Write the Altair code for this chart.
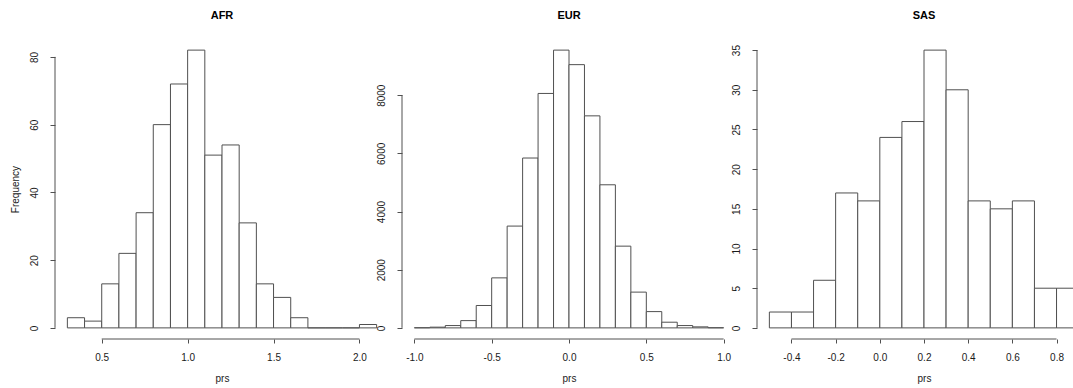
import altair as alt
import pandas as pd

# Histogram counts per population: first bin edge, bin width, counts per bin
afr_start, afr_step = 0.3, 0.1
afr_counts = [3, 2, 13, 22, 34, 60, 72, 82, 51, 54, 31, 13, 9, 3, 0, 0, 0, 1]
afr_xticks = [0.5, 1.0, 1.5, 2.0]
afr_yticks = [0, 20, 40, 60, 80]

eur_start, eur_step = -1.0, 0.1
eur_counts = [5, 25, 80, 250, 770, 1720, 3500, 5840, 8060, 9550,
              9050, 7290, 4920, 2810, 1230, 560, 195, 80, 35, 5]
eur_xticks = [-1.0, -0.5, 0.0, 0.5, 1.0]
eur_yticks = [0, 2000, 4000, 6000, 8000]

sas_start, sas_step = -0.5, 0.1
sas_counts = [2, 2, 6, 17, 16, 24, 26, 35, 30, 16, 15, 16, 5, 5]
sas_xticks = [-0.4, -0.2, 0.0, 0.2, 0.4, 0.6, 0.8]
sas_yticks = [0, 5, 10, 15, 20, 25, 30, 35]

FONT = "Liberation Sans"
LINE = "#505050"
TEXT = "#1a1a1a"
PLOT_W = 334   # full width of the plotting region of each panel
PLOT_H = 300


def panel(name, start, step, counts, xticks, yticks, view_w, y_title=None):
    n = len(counts)
    lo = [round(start + i * step, 3) for i in range(n)]
    hi = [round(start + (i + 1) * step, 3) for i in range(n)]
    df = pd.DataFrame({"lo": lo, "hi": hi, "base": [0] * n, "count": counts})

    # base-graphics style limits: range of the breaks / counts widened by 4%
    x0, x1 = lo[0], hi[-1]
    xpad = 0.04 * (x1 - x0)
    dom_lo, dom_hi = x0 - xpad, x1 + xpad
    # a panel narrower than the plotting region shows only its left part
    vis_w = min(view_w, PLOT_W)
    dom_hi = dom_lo + (dom_hi - dom_lo) * vis_w / PLOT_W
    ymax = max(counts)
    ypad = 0.04 * ymax
    xscale = alt.Scale(domain=[dom_lo, dom_hi], range=[0, vis_w], nice=False, zero=False)
    yscale = alt.Scale(domain=[-ypad, ymax + ypad], nice=False, zero=False)

    x_axis = alt.Axis(
        values=xticks, grid=False, domain=False,
        tickSize=4, tickColor=LINE, tickWidth=1,
        labelExpr="replace(format(datum.value, '.1f'), '\u2212', '-')",
        labelPadding=9, labelFontSize=10, labelColor=TEXT, labelFont=FONT,
        labelBaseline="top", labelFlush=False, labelOverlap=False,
        title="prs", titleFontSize=10, titleFontWeight="normal", titleColor=TEXT,
        titleFont=FONT, titleX=PLOT_W / 2, titleY=42.5, titleAlign="center",
        titleBaseline="alphabetic",
    )
    y_kwargs = dict(
        values=yticks, grid=False, domain=False,
        tickSize=5, tickColor=LINE, tickWidth=1,
        labelAngle=270, labelAlign="center", labelBaseline="middle",
        labelPadding=15.5, labelFontSize=10, labelColor=TEXT, labelFont=FONT,
        labelFlush=False, labelOverlap=False, format="d",
    )
    if y_title:
        y_axis = alt.Axis(
            title=y_title, titleAngle=270, titleX=-39.5, titleY=PLOT_H / 2,
            titleAlign="center", titleBaseline="middle", titleFontSize=10,
            titleFontWeight="normal", titleColor=TEXT, titleFont=FONT, **y_kwargs,
        )
    else:
        y_axis = alt.Axis(title="", **y_kwargs)

    bars = alt.Chart(df).mark_rect(
        fill="white", stroke=LINE, strokeWidth=1, clip=True
    ).encode(
        x=alt.X("lo:Q", scale=xscale, axis=x_axis),
        x2="hi:Q",
        y=alt.Y("base:Q", scale=yscale, axis=y_axis),
        y2="count:Q",
    )

    # axis lines run from the first to the last tick only
    xline_df = pd.DataFrame({"a": [xticks[0]], "b": [xticks[-1]], "y": [-ypad]})
    xline = alt.Chart(xline_df).mark_rule(color=LINE, strokeWidth=1).encode(
        x=alt.X("a:Q", scale=xscale, axis=x_axis),
        x2="b:Q",
        y=alt.Y("y:Q", scale=yscale, axis=y_axis),
    )
    yline_df = pd.DataFrame({"x": [dom_lo], "a": [yticks[0]], "b": [yticks[-1]]})
    yline = alt.Chart(yline_df).mark_rule(color=LINE, strokeWidth=1).encode(
        x=alt.X("x:Q", scale=xscale, axis=x_axis),
        y=alt.Y("a:Q", scale=yscale, axis=y_axis),
        y2="b:Q",
    )

    return alt.layer(bars, xline, yline).properties(
        width=view_w,
        height=PLOT_H,
        title=alt.TitleParams(
            name, anchor="start", align="center", dx=PLOT_W / 2, frame="group",
            baseline="alphabetic", offset=9, fontSize=11, fontWeight="bold",
            color="black", font=FONT,
        ),
    )


afr = panel("AFR", afr_start, afr_step, afr_counts, afr_xticks, afr_yticks, 347, y_title="Frequency")
eur = panel("EUR", eur_start, eur_step, eur_counts, eur_xticks, eur_yticks, 354.5)
sas = panel("SAS", sas_start, sas_step, sas_counts, sas_xticks, sas_yticks, 316)

chart = (
    alt.hconcat(afr, eur, sas, spacing=0, bounds="flush")
    .properties(
        padding={"left": 10, "top": 10, "right": 0, "bottom": 0},
        background="white",
    )
    .configure(font=FONT)
    .configure_view(stroke=None)
)

chart.save("out.html", embed_options={"renderer": "svg", "actions": False})
